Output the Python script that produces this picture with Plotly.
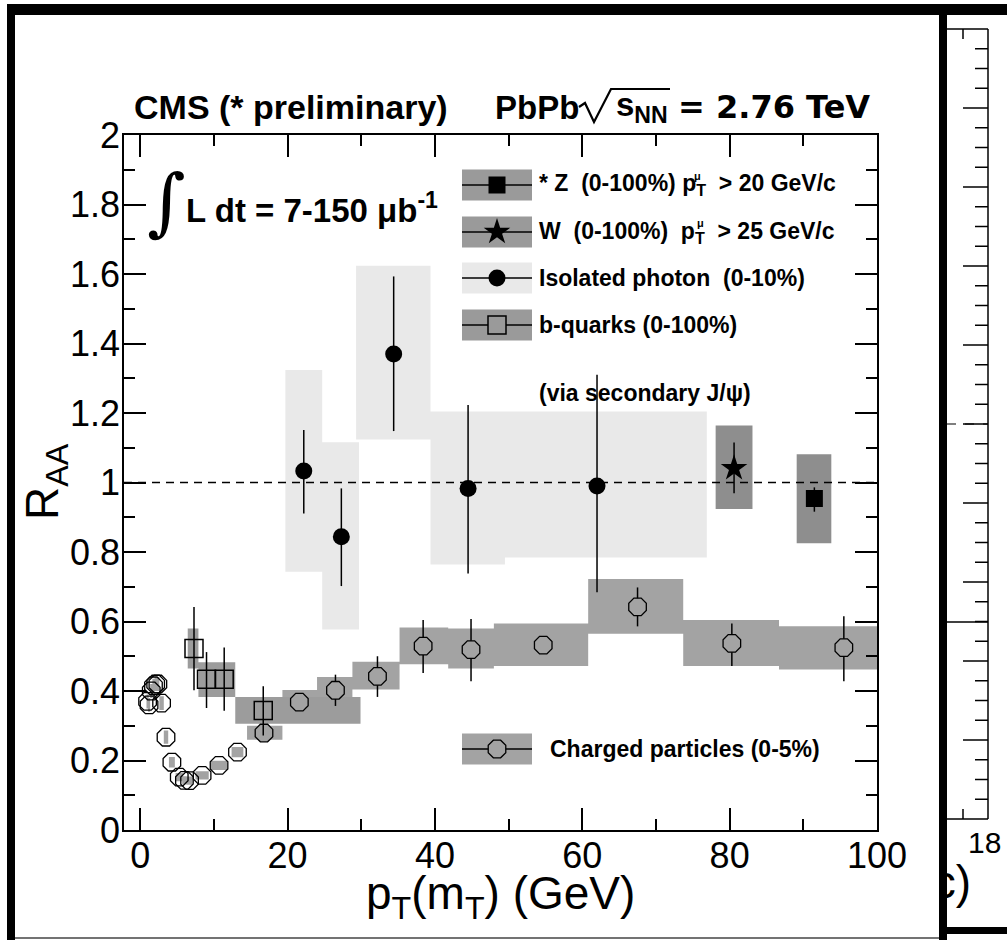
import plotly.graph_objects as go

FIG_W, FIG_H = 1007, 940
PLOT_L, PLOT_R, PLOT_T, PLOT_B = 124, 877, 135, 830
X_RANGE = [-2.2, 100]
Y_RANGE = [0, 2]
REF_LEVEL = 1.0
FONT = "Liberation Sans, Arial, sans-serif"
WIDE_FONT = "DejaVu Sans, Verdana, sans-serif"

# ---------------- data ----------------
# Charged particles (0-5%)
ch_x = [1.0, 1.2, 1.5, 1.8, 2.1, 2.4, 2.9, 3.5, 4.3, 5.3, 6.0, 6.7, 8.4, 10.7, 13.2,
        16.8, 21.6, 26.5, 32.2, 38.4, 44.9, 54.7, 67.5, 80.3, 95.5]
ch_y = [0.37, 0.36, 0.40, 0.415, 0.42, 0.42, 0.365, 0.267, 0.195, 0.152, 0.143, 0.142, 0.157, 0.186, 0.224,
        0.279, 0.368, 0.402, 0.442, 0.529, 0.519, 0.532, 0.642, 0.537, 0.525]
ch_err_hi = [0, 0, 0, 0, 0, 0, 0, 0, 0, 0, 0, 0, 0, 0, 0,
             0.02, 0.025, 0.045, 0.058, 0.075, 0.088, 0.02, 0.056, 0.057, 0.09]
ch_err_lo = [0, 0, 0, 0, 0, 0, 0, 0, 0, 0, 0, 0, 0, 0, 0,
             0.02, 0.025, 0.045, 0.059, 0.077, 0.091, 0.02, 0.056, 0.065, 0.097]
ch_sys_xlo = [0.85, 1.05, 1.35, 1.65, 1.95, 2.25, 2.6, 3.2, 3.9, 4.8, 5.7, 6.3, 7.5, 9.6, 12.4,
              14.5, 19.3, 24.0, 28.8, 35.2, 41.8, 48.0, 60.8, 73.7, 86.7]
ch_sys_xhi = [1.15, 1.35, 1.65, 1.95, 2.25, 2.6, 3.2, 3.8, 4.7, 5.8, 6.3, 7.1, 9.3, 11.8, 14.0,
              19.3, 24.0, 28.8, 35.2, 41.8, 48.0, 60.8, 73.7, 86.7, 104.0]
ch_sys_ylo = [0.35, 0.34, 0.38, 0.395, 0.40, 0.40, 0.345, 0.248, 0.18, 0.14, 0.131, 0.13, 0.145, 0.173, 0.209,
              0.26, 0.335, 0.365, 0.404, 0.477, 0.465, 0.472, 0.565, 0.472, 0.462]
ch_sys_yhi = [0.39, 0.38, 0.42, 0.435, 0.44, 0.44, 0.385, 0.286, 0.21, 0.164, 0.155, 0.154, 0.169, 0.199, 0.239,
              0.30, 0.403, 0.440, 0.484, 0.583, 0.580, 0.594, 0.722, 0.604, 0.586]

# b-quarks (0-100%) via secondary J/psi
b_x = [7.3, 9.0, 11.4, 16.7]
b_y = [0.522, 0.434, 0.434, 0.344]
b_err_hi = [0.12, 0.078, 0.091, 0.07]
b_err_lo = [0.12, 0.083, 0.091, 0.072]
b_sys_xlo = [6.45, 7.9, 10.2, 12.9]
b_sys_xhi = [7.9, 10.2, 12.9, 29.9]
b_sys_ylo = [0.465, 0.383, 0.383, 0.306]
b_sys_yhi = [0.58, 0.483, 0.483, 0.383]

# Isolated photon (0-10%)
ph_x = [22.2, 27.3, 34.4, 44.5, 62.0]
ph_y = [1.033, 0.844, 1.370, 0.983, 0.990]
ph_err_hi = [0.118, 0.139, 0.223, 0.24, 0.32]
ph_err_lo = [0.122, 0.142, 0.222, 0.245, 0.306]
ph_sys_xlo = [19.7, 24.7, 29.3, 39.4, 49.5]
ph_sys_xhi = [24.7, 29.7, 39.4, 49.5, 76.9]
ph_sys_ylo = [0.743, 0.577, 1.124, 0.764, 0.784]
ph_sys_yhi = [1.324, 1.116, 1.624, 1.204, 1.204]

# W (0-100%)
w_x = [80.6]
w_y = [1.041]
w_err_hi = [0.074]
w_err_lo = [0.072]
w_sys_xlo, w_sys_xhi = [78.1], [83.1]
w_sys_ylo, w_sys_yhi = [0.924], [1.164]

# Z (0-100%)
z_x = [91.5]
z_y = [0.954]
z_err_hi = [0.032]
z_err_lo = [0.038]
z_sys_xlo, z_sys_xhi = [89.1], [93.8]
z_sys_ylo, z_sys_yhi = [0.825], [1.081]

x_tickvals = [0, 20, 40, 60, 80, 100]

# ---------------- styles ----------------
C_PHOTON_BOX = "#e9e9e9"
C_CH_BOX = "#a3a3a3"
C_B_BOX = "#9c9c9c"
C_WZ_BOX = "#8e8e8e"
C_LEG_BOX = "#9a9a9a"


def px(x):
    return x / FIG_W


def py(y):
    return 1 - y / FIG_H


def boxes(xlo, xhi, ylo, yhi):
    xs, ys = [], []
    for a, b, c, d in zip(xlo, xhi, ylo, yhi):
        xs += [a, b, b, a, a, None]
        ys += [c, c, d, d, c, None]
    return xs, ys


fig = go.Figure()


def add_boxes(xlo, xhi, ylo, yhi, color, xa="x", ya="y"):
    xs, ys = boxes(xlo, xhi, ylo, yhi)
    fig.add_trace(go.Scatter(x=xs, y=ys, mode="lines", fill="toself", fillcolor=color,
                             line=dict(width=0, color=color), hoverinfo="skip",
                             showlegend=False, xaxis=xa, yaxis=ya))


def err(hi, lo):
    return dict(type="data", symmetric=False, array=hi, arrayminus=lo,
                color="black", thickness=1.5, width=0)


# systematic boxes
add_boxes(ph_sys_xlo, ph_sys_xhi, ph_sys_ylo, ph_sys_yhi, C_PHOTON_BOX)
add_boxes(ch_sys_xlo, ch_sys_xhi, ch_sys_ylo, ch_sys_yhi, C_CH_BOX)
add_boxes(b_sys_xlo, b_sys_xhi, b_sys_ylo, b_sys_yhi, C_B_BOX)
add_boxes(w_sys_xlo, w_sys_xhi, w_sys_ylo, w_sys_yhi, C_WZ_BOX)
add_boxes(z_sys_xlo, z_sys_xhi, z_sys_ylo, z_sys_yhi, C_WZ_BOX)

# reference line at R_AA = 1
fig.add_trace(go.Scatter(x=X_RANGE, y=[REF_LEVEL, REF_LEVEL], mode="lines",
                         line=dict(color="black", width=1.5, dash="8px,6px"),
                         hoverinfo="skip", showlegend=False))

# points
ch_fill = ["rgba(0,0,0,0)" if e == 0 else C_CH_BOX for e in ch_err_hi]
fig.add_trace(go.Scatter(x=ch_x, y=ch_y, mode="markers", error_y=err(ch_err_hi, ch_err_lo),
                         marker=dict(symbol="octagon", size=19, color=ch_fill,
                                     line=dict(color="black", width=1.3)),
                         showlegend=False))
fig.add_trace(go.Scatter(x=b_x, y=b_y, mode="markers", error_y=err(b_err_hi, b_err_lo),
                         marker=dict(symbol="square-open", size=18, color="black",
                                     line=dict(color="black", width=1.5)),
                         showlegend=False))
fig.add_trace(go.Scatter(x=ph_x, y=ph_y, mode="markers", error_y=err(ph_err_hi, ph_err_lo),
                         marker=dict(symbol="circle", size=17, color="black"),
                         showlegend=False))
fig.add_trace(go.Scatter(x=w_x, y=w_y, mode="markers", error_y=err(w_err_hi, w_err_lo),
                         marker=dict(symbol="star", size=20, color="black"),
                         showlegend=False))
fig.add_trace(go.Scatter(x=z_x, y=z_y, mode="markers", error_y=err(z_err_hi, z_err_lo),
                         marker=dict(symbol="square", size=17, color="black"),
                         showlegend=False))

# ---------------- legend (drawn in pixel space on overlay subplot) ----------------
LEG_X0, LEG_X1 = 462, 532
LEG_XC = (LEG_X0 + LEG_X1) / 2
LEG_H = 31
rows = {"Z": 185, "W": 232, "ph": 278, "b": 325, "ch": 749}

add_boxes([LEG_X0] * 3, [LEG_X1] * 3,
          [rows[k] - LEG_H / 2 for k in ("Z", "W", "b")],
          [rows[k] + LEG_H / 2 for k in ("Z", "W", "b")], C_LEG_BOX, "x2", "y2")
add_boxes([LEG_X0], [LEG_X1], [rows["ph"] - LEG_H / 2], [rows["ph"] + LEG_H / 2],
          C_PHOTON_BOX, "x2", "y2")
add_boxes([LEG_X0], [LEG_X1], [rows["ch"] - LEG_H / 2], [rows["ch"] + LEG_H / 2],
          C_CH_BOX, "x2", "y2")
lx, ly = [], []
for k in rows:
    lx += [LEG_X0, LEG_X1, None]
    ly += [rows[k], rows[k], None]
fig.add_trace(go.Scatter(x=lx, y=ly, mode="lines", line=dict(color="black", width=1.5),
                         xaxis="x2", yaxis="y2", hoverinfo="skip", showlegend=False))
leg_markers = [
    ("Z", dict(symbol="square", size=17, color="black")),
    ("W", dict(symbol="star", size=20, color="black")),
    ("ph", dict(symbol="circle", size=17, color="black")),
    ("b", dict(symbol="square", size=18, color=C_LEG_BOX, line=dict(color="black", width=1.5))),
    ("ch", dict(symbol="octagon", size=19, color=C_CH_BOX, line=dict(color="black", width=1.3))),
]
for k, m in leg_markers:
    fig.add_trace(go.Scatter(x=[LEG_XC], y=[rows[k]], mode="markers", marker=m,
                             xaxis="x2", yaxis="y2", hoverinfo="skip", showlegend=False))

# "c)" of the neighbouring panel, clipped at the divider
fig.add_trace(go.Scatter(x=[971], y=[886], mode="text", text=["c)"], textposition="middle left",
                         textfont=dict(family=FONT, size=46, color="black"), cliponaxis=True,
                         xaxis="x3", yaxis="y3", hoverinfo="skip", showlegend=False))

NB = "\u00a0"
ann = []


def text(x, y, s, size, xanchor="left", yanchor="middle", bold=False, angle=0, family=FONT):
    ann.append(dict(x=px(x), y=py(y), xref="paper", yref="paper", text=(f"<b>{s}</b>" if bold else s),
                    showarrow=False, xanchor=xanchor, yanchor=yanchor, textangle=angle,
                    font=dict(family=family, size=size, color="black")))


TOP_Y = 107
text(132, TOP_Y, "CMS (* preliminary)", 34, bold=True)
text(493, TOP_Y, "PbPb", 33, bold=True)
text(614, TOP_Y, "s<sub>NN</sub>", 33, bold=True)
text(676, TOP_Y, "= 2.76 TeV", 32, bold=True, family=WIDE_FONT)
text(145, 201, "∫", 74, family="DejaVu Serif, serif")
text(184, 208, "L dt = 7-150 μb<sup>-1</sup>", 33, bold=True)
text(537, 185, f"*{NB}Z{NB}{NB}(0-100%){NB}p<sub>T</sub>{NB}{NB}> 20 GeV/c", 23, bold=True)
text(537, 232, f"W{NB}{NB}(0-100%){NB}{NB}p<sub>T</sub>{NB}{NB}> 25 GeV/c", 23, bold=True)
text(537, 278, f"Isolated photon{NB}{NB}(0-10%)", 23, bold=True)
text(537, 325, "b-quarks (0-100%)", 23, bold=True)
text(537, 393, "(via secondary J/ψ)", 23, bold=True)
text(548, 749, "Charged particles (0-5%)", 23, bold=True)
text(697, 176, "μ", 11, xanchor="center", bold=True)
text(700, 223, "μ", 11, xanchor="center", bold=True)
text(45, 482, "R<sub>AA</sub>", 46, xanchor="center", angle=-90)
text(500, 896, "p<sub>T</sub>(m<sub>T</sub>) (GeV)", 46, xanchor="center")
text(966, 842, "18", 30)

# ---------------- frame and neighbouring panel decorations ----------------
shapes = []


def rect(x0, y0, x1, y1, color="black"):
    shapes.append(dict(type="rect", xref="paper", yref="paper", x0=px(x0), x1=px(x1),
                       y0=py(y0), y1=py(y1), fillcolor=color, line=dict(width=0), layer="above"))


def line(x0, y0, x1, y1, width=1.5, color="black", dash="solid"):
    shapes.append(dict(type="line", xref="paper", yref="paper", x0=px(x0), x1=px(x1),
                       y0=py(y0), y1=py(y1), line=dict(color=color, width=width, dash=dash),
                       layer="above"))


def polyline(pts, width=2):
    d = "M " + " L ".join(f"{px(a):.5f},{py(b):.5f}" for a, b in pts)
    shapes.append(dict(type="path", xref="paper", yref="paper", path=d,
                       line=dict(color="black", width=width), layer="above"))


rect(7, 4, FIG_W, 15)
rect(7, 4, 15, FIG_H)
rect(939, 4, 947, FIG_H)
rect(947, 927, FIG_W, 934)
line(15, 938, 939, 938, 1.5, "#444")
# square-root sign of sqrt(s_NN)
polyline([(579, 107), (585, 103), (594, 122), (611, 89), (670, 89)], 2.2)
# neighbouring panel axes
RP_TOP, RP_BOT, RP_AX = 29, 819, 988
line(947, RP_TOP, RP_AX, RP_TOP)
line(RP_AX, RP_TOP, RP_AX, RP_BOT)
line(947, RP_BOT, RP_AX, RP_BOT)
line(963, RP_TOP, 963, RP_TOP + 10)
line(963, RP_BOT, 963, RP_BOT - 10)
step = (RP_BOT - RP_TOP) / 40
for i in range(1, 40):
    yy = RP_TOP + i * step
    ln = 25 if i % 4 == 0 else 13
    line(RP_AX - ln, yy, RP_AX, yy)
line(947, 424, RP_AX, 424, 1.2, "black", "dash")
line(947, 622, RP_AX, 622, 1.5)

axis_common = dict(showgrid=False, zeroline=False, showline=True, linecolor="black", linewidth=1.5,
                   mirror="ticks", ticks="inside", ticklen=22, tickwidth=1.5, tickcolor="black",
                   tickfont=dict(family=FONT, size=36, color="black"), automargin=False)

fig.update_layout(
    width=FIG_W, height=FIG_H, template="none",
    margin=dict(l=0, r=0, t=0, b=0),
    paper_bgcolor="white", plot_bgcolor="rgba(0,0,0,0)",
    showlegend=False,
    xaxis=dict(domain=[px(PLOT_L), px(PLOT_R)], range=X_RANGE, tickvals=x_tickvals,
               ticklabelstandoff=-7,
               minor=dict(dtick=10, tick0=0, ticks="inside", ticklen=11, tickwidth=1.5,
                          tickcolor="black", showgrid=False),
               **axis_common),
    yaxis=dict(domain=[py(PLOT_B), py(PLOT_T)], range=Y_RANGE, dtick=0.2, tick0=0,
               ticklabelstandoff=-5,
               minor=dict(dtick=0.1, tick0=0, ticks="inside", ticklen=11, tickwidth=1.5,
                          tickcolor="black", showgrid=False),
               **axis_common),
    xaxis2=dict(domain=[0, 1], range=[0, FIG_W], visible=False, anchor="y2", fixedrange=True),
    yaxis2=dict(domain=[0, 1], range=[FIG_H, 0], visible=False, anchor="x2", fixedrange=True),
    xaxis3=dict(domain=[px(947), 1], range=[947, FIG_W], visible=False, anchor="y3"),
    yaxis3=dict(domain=[0, 1], range=[FIG_H, 0], visible=False, anchor="x3"),
    annotations=ann,
    shapes=shapes,
)

fig.write_html("out.html")
